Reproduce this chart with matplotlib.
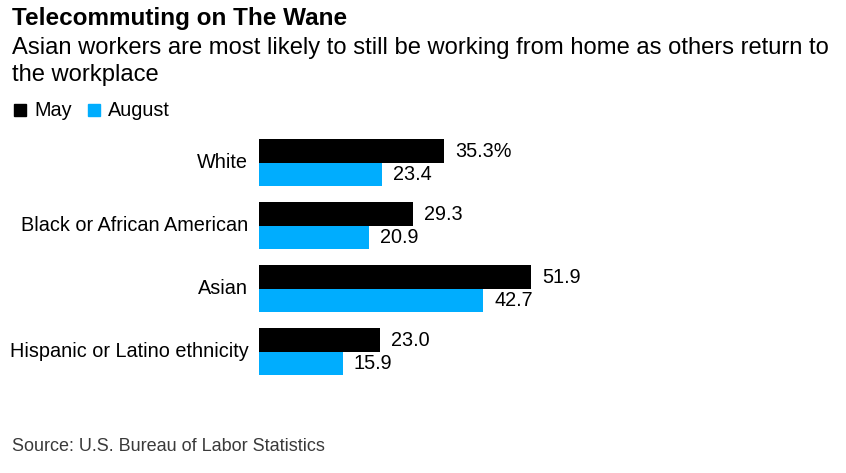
import numpy as np
import matplotlib.pyplot as plt
from matplotlib.patches import Rectangle

plt.rcParams['font.family'] = ['Liberation Sans', 'DejaVu Sans']

categories = ["White", "Black or African American", "Asian", "Hispanic or Latino ethnicity"]
may = [35.3, 29.3, 51.9, 23.0]
august = [23.4, 20.9, 42.7, 15.9]
may_labels = ["35.3%", "29.3", "51.9", "23.0"]
august_labels = ["23.4", "20.9", "42.7", "15.9"]

black = "#000000"
blue = "#00adfe"

W, H = 846, 473
fig = plt.figure(figsize=(W / 100, H / 100), dpi=100)

# axes placed in pixel terms
left, top, right, bottom = 259.3, 130, 783.6, 390
ax = fig.add_axes([left / W, 1 - bottom / H, (right - left) / W, (bottom - top) / H])

y = np.arange(len(categories))
h = 0.373
ax.barh(y - h / 2, may, height=h, color=black)
ax.barh(y + h / 2, august, height=h, color=blue)

fs = 14.3
for i in range(len(categories)):
    ax.text(may[i] + 2.1, y[i] - h / 2, may_labels[i], va="center", ha="left", fontsize=fs)
    ax.text(august[i] + 2.1, y[i] + h / 2, august_labels[i], va="center", ha="left", fontsize=fs)
    ax.text(-2.1, y[i], categories[i], va="center", ha="right", fontsize=fs)

ax.set_xlim(0, 100)
ax.set_ylim(3.605, -0.522)
ax.axis("off")

fig.text(12 / W, 1 - 18 / H, "Telecommuting on The Wane", fontsize=17.5, fontweight="bold", va="center", ha="left")
fig.text(12 / W, 1 - 48 / H, "Asian workers are most likely to still be working from home as others return to",
         fontsize=17.1, va="center", ha="left")
fig.text(12 / W, 1 - 75 / H, "the workplace", fontsize=17.1, va="center", ha="left")

# legend
fig.patches.append(Rectangle((13.5 / W, 1 - 116.5 / H), 12.5 / W, 12.5 / H, transform=fig.transFigure, color=black))
fig.text(34 / W, 1 - 110 / H, "May", fontsize=fs, va="center", ha="left")
fig.patches.append(Rectangle((87.5 / W, 1 - 116.5 / H), 12.5 / W, 12.5 / H, transform=fig.transFigure, color=blue))
fig.text(108 / W, 1 - 110 / H, "August", fontsize=fs, va="center", ha="left")

fig.text(12 / W, 1 - 446 / H, "Source: U.S. Bureau of Labor Statistics", fontsize=13, color="#3a3a3a",
         va="center", ha="left")

fig.savefig("out.png", dpi=100)
